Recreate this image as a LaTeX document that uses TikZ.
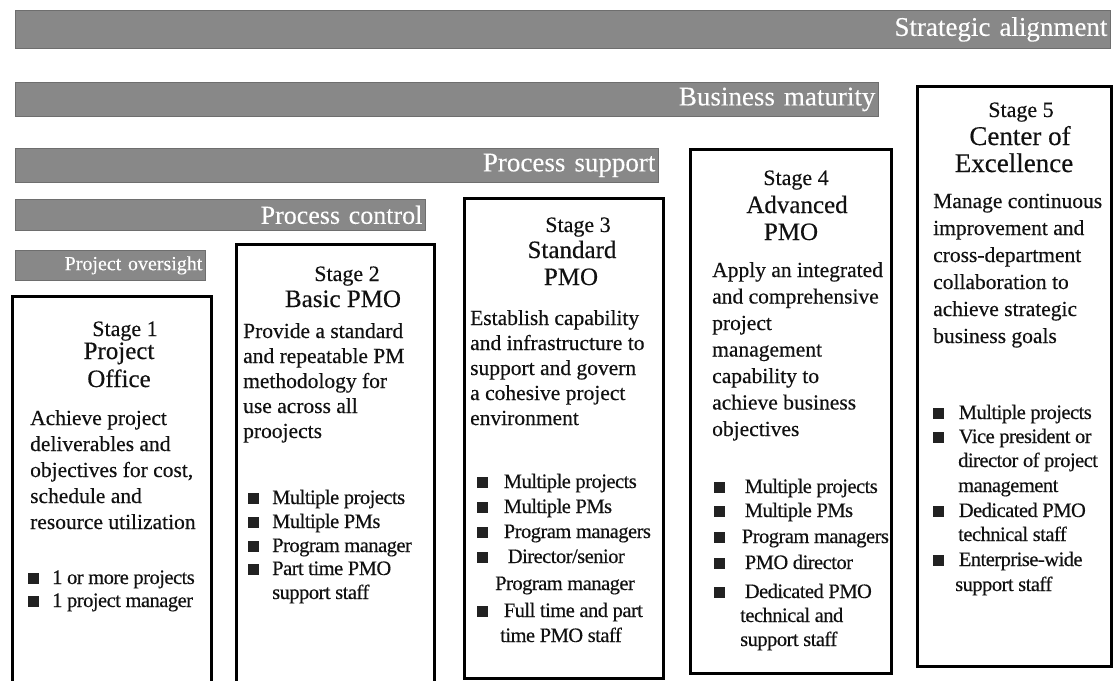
\documentclass[tikz,border=0pt]{standalone}
\usepackage{fontspec}
\setmainfont{Liberation Serif}[FakeBold=0.35]
\newfontfamily\tightfont{Liberation Serif}[LetterSpace=-2.5,FakeBold=0.35]
\newfontfamily\barfont{Liberation Serif}[FakeBold=0.15]
\definecolor{barfill}{HTML}{888888}
\definecolor{barline}{HTML}{6E6E6E}
\definecolor{ink}{HTML}{111111}
\definecolor{sqcol}{HTML}{222222}
\newcommand\bsq[1][13pt]{\textcolor{sqcol}{\rule[0.5pt]{11pt}{11pt}}\hspace{#1}}
\begin{document}
\begin{tikzpicture}[x=1pt,y=-1pt,
  bar/.style={fill=barfill, draw=barline, line width=0.8pt, anchor=north west,
    inner xsep=3pt, inner ysep=0pt, text=white, align=right},
  stagebox/.style={draw=black, line width=2.6pt, fill=white, anchor=north west, inner sep=0pt},
  lbl/.style={anchor=base, inner sep=0pt, text=ink, font=\fontsize{22}{22}\selectfont},
  ttl/.style={anchor=base, inner sep=0pt, text=ink, font=\fontsize{25}{25}\selectfont},
  body/.style={anchor=base west, inner sep=0pt, text=ink, font=\fontsize{21.5}{21.5}\selectfont},
  bul/.style={anchor=base west, inner sep=0pt, text=ink, font=\tightfont\fontsize{20.5}{20.5}\selectfont}]
\clip (0,0) rectangle (1113,680);
\useasboundingbox (0,0) rectangle (1113,680);
\fill[white] (0,0) rectangle (1113,680);

% bars
\node[bar, text width=1089pt, minimum height=38pt, font=\barfont\fontsize{27}{27}\selectfont] (sa) at (15,10) {Strategic alignment};
\node[bar, text width=857pt, minimum height=34pt, font=\barfont\fontsize{27}{27}\selectfont] (bm) at (15,82) {Business maturity};
\node[bar, text width=637pt, minimum height=34pt, font=\barfont\fontsize{27}{27}\selectfont] (ps) at (15,148) {Process support};
\node[bar, text width=404pt, minimum height=31pt, font=\barfont\fontsize{26}{26}\selectfont] (pc) at (15,199) {Process control};
\node[bar, text width=184pt, minimum height=30pt, font=\barfont\fontsize{20}{20}\selectfont] (po) at (15,250) {Project oversight};

% stage boxes
\node[stagebox, minimum width=199pt, minimum height=405pt] (s1) at (11,295) {};
\node[stagebox, minimum width=198pt, minimum height=457pt] (s2) at (235,243) {};
\node[stagebox, minimum width=199pt, minimum height=480pt] (s3) at (463,197) {};
\node[stagebox, minimum width=201pt, minimum height=524pt] (s4) at (689,148) {};
\node[stagebox, minimum width=194pt, minimum height=580pt] (s5) at (916,85) {};

% Stage 1
\node[lbl] (s1l) at (125,336) {Stage 1};
\node[ttl] (s1t1) at (119,359) {Project};
\node[ttl] (s1t2) at (119,387) {Office};
\foreach \t [count=\i from 0] in {Achieve project, deliverables and, {objectives for cost,}, schedule and, resource utilization}
  \node[body] (s1b\i) at (30,{425+26*\i}) {\t};
\foreach \xx/\yy/\t [count=\i] in {28/584/{\bsq 1 or more projects}, 28/607/{\bsq 1 project manager}}
  \node[bul] (s1u\i) at (\xx,\yy) {\t};

% Stage 2
\node[lbl] (s2l) at (347,281) {Stage 2};
\node[ttl] (s2t1) at (343,307) {Basic PMO};
\foreach \t [count=\i from 0] in {Provide a standard, and repeatable PM, methodology for, use across all, proojects}
  \node[body] (s2b\i) at (243,{338+25*\i}) {\t};
\foreach \xx/\yy/\t [count=\i] in {248/504/{\bsq Multiple projects}, 248/528/{\bsq Multiple PMs},
    248/552/{\bsq Program manager}, 248/575/{\bsq Part time PMO}, 272/599/{support staff}}
  \node[bul] (s2u\i) at (\xx,\yy) {\t};

% Stage 3
\node[lbl] (s3l) at (578,232) {Stage 3};
\node[ttl] (s3t1) at (572,258) {Standard};
\node[ttl] (s3t2) at (571,285) {PMO};
\foreach \t [count=\i from 0] in {Establish capability, and infrastructure to, support and govern, a cohesive project, environment}
  \node[body] (s3b\i) at (470,{325+25*\i}) {\t};
\foreach \xx/\yy/\t [count=\i] in {477/488/{\bsq[11pt] Multiple projects}, 477/513/{\bsq[11pt] Multiple PMs},
    477/538/{\bsq[11pt] Program managers}, 477/563/{\bsq[15pt] Director/senior}, 495/590/{Program manager},
    477/617/{\bsq[11pt] Full time and part}, 500/642/{time PMO staff}}
  \node[bul] (s3u\i) at (\xx,\yy) {\t};

% Stage 4
\node[lbl] (s4l) at (796,185) {Stage 4};
\node[ttl] (s4t1) at (797,213) {Advanced};
\node[ttl] (s4t2) at (791,240) {PMO};
\foreach \t [count=\i from 0] in {Apply an integrated, and comprehensive, project, management, capability to, achieve business, objectives}
  \node[body] (s4b\i) at (712,{277+26.5*\i}) {\t};
\foreach \xx/\yy/\t [count=\i] in {714/493/{\bsq[15pt] Multiple projects}, 714/517/{\bsq[15pt] Multiple PMs},
    714/543/{\bsq[12pt] Program managers}, 714/569/{\bsq[15pt] PMO director}, 714/598/{\bsq[15pt] Dedicated PMO},
    740/622/{technical and}, 740/646/{support staff}}
  \node[bul] (s4u\i) at (\xx,\yy) {\t};

% Stage 5
\node[lbl] (s5l) at (1021,117) {Stage 5};
\node[ttl, font=\fontsize{27}{27}\selectfont] (s5t1) at (1020,145) {Center of};
\node[ttl, font=\fontsize{27}{27}\selectfont] (s5t2) at (1014,172) {Excellence};
\foreach \t [count=\i from 0] in {Manage continuous, improvement and, cross-department, collaboration to, achieve strategic, business goals}
  \node[body] (s5b\i) at (933,{208+27*\i}) {\t};
\foreach \xx/\yy/\t [count=\i] in {933/419/{\bsq[10pt] Multiple projects}, 933/443/{\bsq[10pt] Vice president or},
    958/467/{director of project}, 958/492/{management}, 933/517/{\bsq[10pt] Dedicated PMO},
    958/541/{technical staff}, 933/566/{\bsq[10pt] Enterprise-wide}, 955/591/{support staff}}
  \node[bul] (s5u\i) at (\xx,\yy) {\t};
\end{tikzpicture}
\end{document}
